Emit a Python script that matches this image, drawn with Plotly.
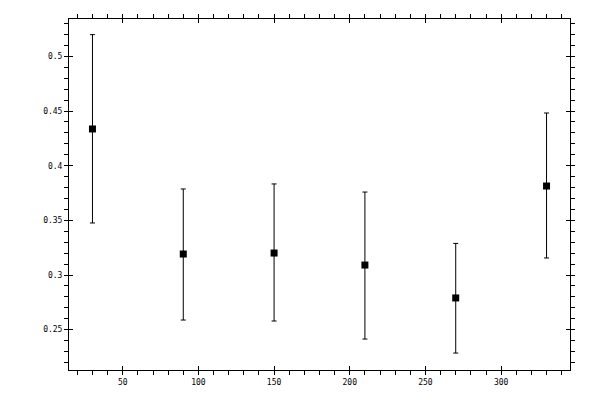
import plotly.graph_objects as go

angles = [30, 90, 150, 210, 270, 330]
values = [0.4336, 0.3192, 0.3201, 0.3091, 0.2790, 0.3814]
upper = [0.5199, 0.3787, 0.3833, 0.3759, 0.3289, 0.4482]
lower = [0.3476, 0.2588, 0.2579, 0.2414, 0.2286, 0.3156]

x_range = [14.5, 345.5]
y_range = [0.2131, 0.5342]

err_plus = [u - v for u, v in zip(upper, values)]
err_minus = [v - l for v, l in zip(values, lower)]

fig = go.Figure()
fig.add_trace(go.Scatter(
    x=angles, y=values, mode="markers",
    marker=dict(symbol="square", size=7, color="black"),
    error_y=dict(type="data", symmetric=False, array=err_plus, arrayminus=err_minus,
                 color="black", thickness=1, width=2.5),
    showlegend=False, hoverinfo="skip",
))
# invisible trace for overlay axes
fig.add_trace(go.Scatter(x=[None], y=[None], xaxis="x2", yaxis="y2",
                         mode="markers", showlegend=False, hoverinfo="skip"))

font = dict(family="DejaVu Sans Mono", size=8, color="black")
common = dict(showgrid=False, zeroline=False, showline=True, linecolor="black",
              linewidth=1, tickcolor="black", tickwidth=1, automargin=False)

fig.update_layout(
    template="none",
    width=592, height=392,
    margin=dict(l=61, r=30, t=11, b=30, pad=0),
    paper_bgcolor="white", plot_bgcolor="white",
    xaxis=dict(range=x_range, dtick=50, tick0=0, ticks="outside", ticklen=4,
               mirror="ticks", tickfont=font,
               minor=dict(dtick=10, tick0=0, ticks="outside", ticklen=4,
                          tickcolor="black", tickwidth=1, showgrid=False),
               **common),
    yaxis=dict(range=y_range, dtick=0.05, tick0=0, ticks="outside", ticklen=4,
               mirror="ticks", tickfont=font,
               minor=dict(dtick=0.01, tick0=0, ticks="outside", ticklen=4,
                          tickcolor="black", tickwidth=1, showgrid=False),
               **common),
    xaxis2=dict(range=x_range, dtick=50, tick0=0, ticks="inside", ticklen=4,
                mirror="ticks", overlaying="x", side="bottom",
                showticklabels=False, anchor="y2", **common),
    yaxis2=dict(range=y_range, dtick=0.05, tick0=0, ticks="inside", ticklen=4,
                mirror="ticks", overlaying="y", side="left",
                showticklabels=False, anchor="x2", **common),
)

fig.write_html("out.html")
